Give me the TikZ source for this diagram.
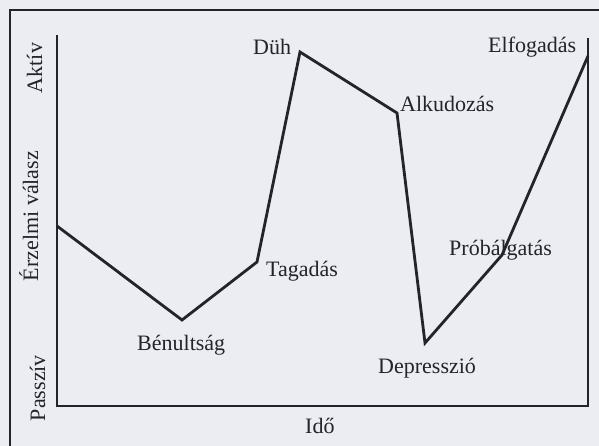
\documentclass[tikz,border=0pt]{standalone}
\usepackage{fontspec}
\setmainfont{Liberation Serif}
\usetikzlibrary{positioning}
\definecolor{scanbg}{RGB}{236,237,243}
\definecolor{inkgray}{RGB}{35,35,42}

\begin{document}
\begin{tikzpicture}[x=1pt, y=-1pt,
    frame/.style={draw=inkgray, line width=1.4pt},
    curve/.style={draw=inkgray, line width=2.8pt, line join=miter},
    lbl/.style={font=\fontsize{22}{26}\selectfont, text=inkgray, inner sep=0pt,
        anchor=base west},
    axlbl/.style={lbl, rotate=90, anchor=base}
]
    % Page and frame
    \fill[scanbg] (0,0) rectangle (599,446);
    \useasboundingbox (0,0) rectangle (599,446);
    \coordinate (pagebl) at (10,446);
    \coordinate (pagetl) at (10,10);
    \coordinate (pagetr) at (599,10);
    \draw[frame] (pagebl) -- (pagetl) -- (pagetr);

    % Axes
    \coordinate (axtop) at (57,35);
    \coordinate (origin) at (57,406);
    \coordinate (axend) at (588,406);
    \coordinate (axright) at (588,38);
    \draw[frame] (axtop) -- (origin) -- (axend) -- (axright);

    % Stages
    \coordinate (start) at (57,226);
    \coordinate (benult) at (182,320);
    \coordinate (tagad) at (257,262);
    \coordinate (duh) at (300,52);
    \coordinate (alku) at (397,113);
    \coordinate (depr) at (425,343);
    \coordinate (probal) at (502,255);
    \coordinate (elfog) at (588,56);
    \draw[curve] (start) -- (benult) -- (tagad) -- (duh) -- (alku)
        -- (depr) -- (probal) -- (elfog);

    % Stage labels
    \node[lbl] (duhlbl) at (253,55) {Düh};
    \node[lbl] (elfoglbl) at (488,53) {Elfogadás};
    \node[lbl] (alkulbl) at (400,112) {Alkudozás};
    \node[lbl] (tagadlbl) at (266,276) {Tagadás};
    \node[lbl] (benultlbl) at (137,350) {Bénultság};
    \node[lbl] (deprlbl) at (378,373) {Depresszió};
    \node[lbl] (proballbl) at (449,255) {Próbálgatás};

    % Axis labels
    \node[lbl] (idolbl) at (305,433) {Idő};
    \node[axlbl] (aktivlbl) at (42,68) {Aktív};
    \node[axlbl] (valaszlbl) at (38,216) {Érzelmi válasz};
    \node[axlbl] (passzivlbl) at (45,388) {Passzív};
\end{tikzpicture}
\end{document}
